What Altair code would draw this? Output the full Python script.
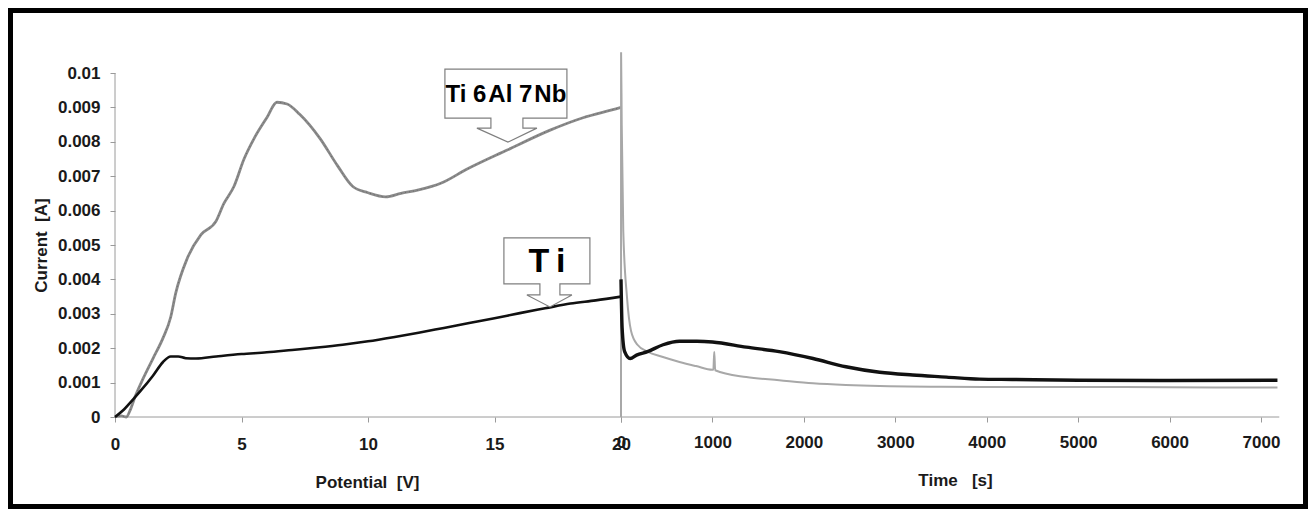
import altair as alt
import pandas as pd

# ---------------- data ----------------
# Potentiodynamic part: Potential [V] vs Current [A]
ti_pot = [0, 0.3, 0.7, 1.0, 1.5, 1.9, 2.2, 2.5, 2.8, 3.2, 4, 5, 6, 7, 8, 9, 10,
          11, 12, 13, 14, 15, 16, 17, 18, 19, 20]
ti_cur = [0, 0.00018, 0.0005, 0.00075, 0.0012, 0.0016, 0.00176, 0.00176, 0.00171,
          0.0017, 0.00176, 0.00183, 0.00188, 0.00195, 0.00202, 0.0021, 0.0022,
          0.00232, 0.00245, 0.00259, 0.00273, 0.00287, 0.00302, 0.00316, 0.0033,
          0.00339, 0.0035]

nb_pot = [0, 0.25, 0.45, 0.6, 0.8, 1.1, 1.5, 1.9, 2.2, 2.4, 2.85, 3.4, 4.0, 4.3,
          4.7, 5.1, 5.5, 6.0, 6.4, 6.8, 7.3, 8.1, 8.8, 9.4, 10.0, 10.7, 11.3, 12.0,
          12.9, 13.9, 15.5, 17.2, 18.5, 19.6, 20]
nb_cur = [0, 0.00003, 0.0, 0.0002, 0.0006, 0.0011, 0.0017, 0.0023, 0.0029, 0.0036,
          0.0046, 0.0053, 0.0057, 0.0062, 0.0067, 0.0075, 0.0081, 0.0087, 0.00915,
          0.0091, 0.0088, 0.0081, 0.0073, 0.0067, 0.00652, 0.0064, 0.0065, 0.0066,
          0.0068, 0.0072, 0.00776, 0.00834, 0.0087, 0.00892, 0.009]

# Potentiostatic part: Time [s] vs Current [A]
ti_time = [0, 12, 40, 100, 170, 290, 460, 640, 830, 1000, 1370, 1730, 2100, 2460,
           2830, 3190, 3560, 3920, 4280, 5000, 6000, 7180]
ti_tcur = [0.004, 0.0026, 0.0019, 0.0017, 0.0018, 0.0019, 0.0021, 0.0022, 0.0022,
           0.00218, 0.00203, 0.0019, 0.0017, 0.00146, 0.0013, 0.00122, 0.00116,
           0.0011, 0.00109, 0.00107, 0.00106, 0.00107]

nb_time = [0, 1, 8, 25, 65, 110, 180, 290, 450, 640, 820, 1000, 1010, 1020, 1030,
           1370, 1730, 2100, 2460, 2830, 3500, 4500, 5500, 6500, 7180]
nb_tcur = [0, 0.0106, 0.0085, 0.0054, 0.0035, 0.0025, 0.0021, 0.0019, 0.00175,
           0.0016, 0.00148, 0.00137, 0.00137, 0.0019, 0.00136, 0.00116, 0.00107,
           0.00098, 0.00093, 0.0009, 0.00088, 0.00087, 0.00087, 0.00086, 0.00086]

pot_ticks = [0, 5, 10, 15, 20]
time_ticks = [0, 1000, 2000, 3000, 4000, 5000, 6000, 7000]
cur_ticks = [0, 0.001, 0.002, 0.003, 0.004, 0.005, 0.006, 0.007, 0.008, 0.009, 0.01]

# axis extents (data units)
pot_range = [0, 20]
time_range = [0, 7200]
cur_range = [0, 0.01]

# callouts: label, arrow-tip potential, arrow-tip current
callout_labels = ["Ti 6\u200aAl 7\u200aNb", "T\u2009i"]
callout_pot = [15.53, 17.19]
callout_cur = [0.00799, 0.0032]

# ---------------- layout ----------------
W, H = 1165, 344
LEFT_PX = 506           # pixel length of the 0..20 V segment
PX_PER_S = 640 / 7000   # pixels per second in the time segment

FONT = "Liberation Sans"
AXIS_GRAY = "#9a9a9a"

df_ti = pd.DataFrame({"V": ti_pot, "I": ti_cur})
df_nb = pd.DataFrame({"V": nb_pot, "I": nb_cur})
df_tti = pd.DataFrame({"t": ti_time, "I": ti_tcur})
df_tnb = pd.DataFrame({"t": nb_time, "I": nb_tcur})

xl_scale = alt.Scale(domain=[0, 20 * W / LEFT_PX], nice=False, zero=False)
xr_scale = alt.Scale(domain=[-LEFT_PX / PX_PER_S, (W - LEFT_PX) / PX_PER_S],
                     nice=False, zero=False)
y_scale = alt.Scale(domain=[0, 0.01], nice=False, zero=True)

common_axis = dict(grid=False, domain=False, tickColor=AXIS_GRAY,
                   tickSize=5, labelFont=FONT, labelFontSize=17,
                   labelFontWeight="bold", labelColor="#1a1a1a",
                   labelFlush=False, labelOverlap=False,
                   titleFont=FONT, titleFontSize=17, titleFontWeight="bold",
                   titleColor="#1a1a1a")

xl_axis = alt.Axis(values=pot_ticks, format="d", orient="bottom",
                   title="Potential\u00a0\u00a0[V]", labelPadding=14,
                   titleX=252, titleY=65, titleAlign="center",
                   titleBaseline="middle", **common_axis)
xr_axis = alt.Axis(values=time_ticks, format="d", orient="bottom",
                   title="Time\u00a0\u00a0\u00a0[s]", labelPadding=12,
                   titleX=840, titleY=63, titleAlign="center",
                   titleBaseline="middle", **common_axis)
y_axis = alt.Axis(values=cur_ticks, format="~g", title="Current\u00a0\u00a0[A]",
                  labelPadding=10, titleAngle=270, titleX=-74, titleY=H / 2,
                  titleAlign="center", titleBaseline="middle", **common_axis)

XL = alt.X("V:Q", scale=xl_scale, axis=xl_axis)
XR = alt.X("t:Q", scale=xr_scale, axis=xr_axis)
Y = alt.Y("I:Q", scale=y_scale, axis=y_axis)

# axis lines drawn from the data extents
df_yline = pd.DataFrame({"V": [pot_range[0]], "I": [cur_range[0]], "I2": [cur_range[1]]})
df_xline = pd.DataFrame({"V": [pot_range[0]], "V2": [pot_range[1]], "I": [cur_range[0]]})
df_tline = pd.DataFrame({"t": [time_range[0]], "t2": [time_range[1]], "I": [cur_range[0]]})

y_rule = alt.Chart(df_yline).mark_rule(color=AXIS_GRAY, strokeWidth=1).encode(
    x=XL, y=Y, y2="I2:Q")
x_rule = alt.Chart(df_xline).mark_rule(color=AXIS_GRAY, strokeWidth=1).encode(
    x=XL, x2="V2:Q", y=Y)
t_rule = alt.Chart(df_tline).mark_rule(color=AXIS_GRAY, strokeWidth=1).encode(
    x=XR, x2="t2:Q", y=Y)

# left (potential) group
ti_line = alt.Chart(df_ti).mark_line(color="#111111", strokeWidth=2.6,
                                     interpolate="monotone").encode(x=XL, y=Y)
nb_line = alt.Chart(df_nb).mark_line(color="#8a8a8a", strokeWidth=2.8,
                                     interpolate="monotone").encode(x=XL, y=Y)
nb_dots = alt.Chart(df_nb).mark_line(color="#555555", strokeWidth=1.0,
                                     strokeDash=[1, 3], opacity=0.6,
                                     interpolate="monotone").encode(x=XL, y=Y)

df_c1 = pd.DataFrame({"V": [callout_pot[0]], "I": [callout_cur[0]],
                      "label": [callout_labels[0]]})
df_c2 = pd.DataFrame({"V": [callout_pot[1]], "I": [callout_cur[1]],
                      "label": [callout_labels[1]]})

shape1 = ("M -63 -73 L 59 -73 L 59 -24 L 15 -24 L 15 -14 L 29 -14 L 0 0 "
          "L -31 -14 L -17 -14 L -17 -24 L -63 -24 Z")
shape2 = ("M -46 -69 L 40 -69 L 40 -23 L 10 -23 L 10 -12 L 22 -12 L 0 0 "
          "L -23 -12 L -10 -12 L -10 -23 L -46 -23 Z")

box_style = dict(size=4, filled=True, fill="white", stroke="#7f7f7f",
                 strokeWidth=1.2, opacity=1, fillOpacity=1, strokeOpacity=1)
c1_box = alt.Chart(df_c1).mark_point(shape=shape1, **box_style).encode(x=XL, y=Y)
c2_box = alt.Chart(df_c2).mark_point(shape=shape2, **box_style).encode(x=XL, y=Y)
c1_txt = alt.Chart(df_c1).mark_text(font=FONT, fontSize=24, fontWeight="bold",
                                    color="black", dx=-2, dy=-47,
                                    baseline="middle", align="center").encode(
    x=XL, y=Y, text="label:N")
c2_txt = alt.Chart(df_c2).mark_text(font=FONT, fontSize=34, fontWeight="bold",
                                    color="black", dx=-3, dy=-45,
                                    baseline="middle", align="center").encode(
    x=XL, y=Y, text="label:N")

left = alt.layer(y_rule, x_rule, nb_line, nb_dots, ti_line,
                 c1_box, c1_txt, c2_box, c2_txt)

# right (time) group
tnb_line = alt.Chart(df_tnb).mark_line(color="#a8a8a8", strokeWidth=2.0,
                                       interpolate="monotone").encode(x=XR, y=Y)
tti_line = alt.Chart(df_tti).mark_line(color="#111111", strokeWidth=3.4,
                                       interpolate="monotone").encode(x=XR, y=Y)
right = alt.layer(t_rule, tnb_line, tti_line)

# black picture frame
frame = alt.Chart(pd.DataFrame({"a": [0]})).mark_rect(
    fillOpacity=0, stroke="black", strokeWidth=5).encode(
    x=alt.value(-104.5), x2=alt.value(1190.5),
    y=alt.value(-62.5), y2=alt.value(433.5))

chart = alt.layer(left, right, frame).resolve_scale(x="independent").properties(
    width=W, height=H,
    background="white",
    autosize=alt.AutoSizeParams(type="none"),
    padding={"left": 107, "top": 65, "right": 28, "bottom": 92},
).configure_view(stroke="transparent", strokeWidth=0).configure_axis(
    domain=False, grid=False)

chart.save("out.html", embed_options={"renderer": "svg", "actions": False})
